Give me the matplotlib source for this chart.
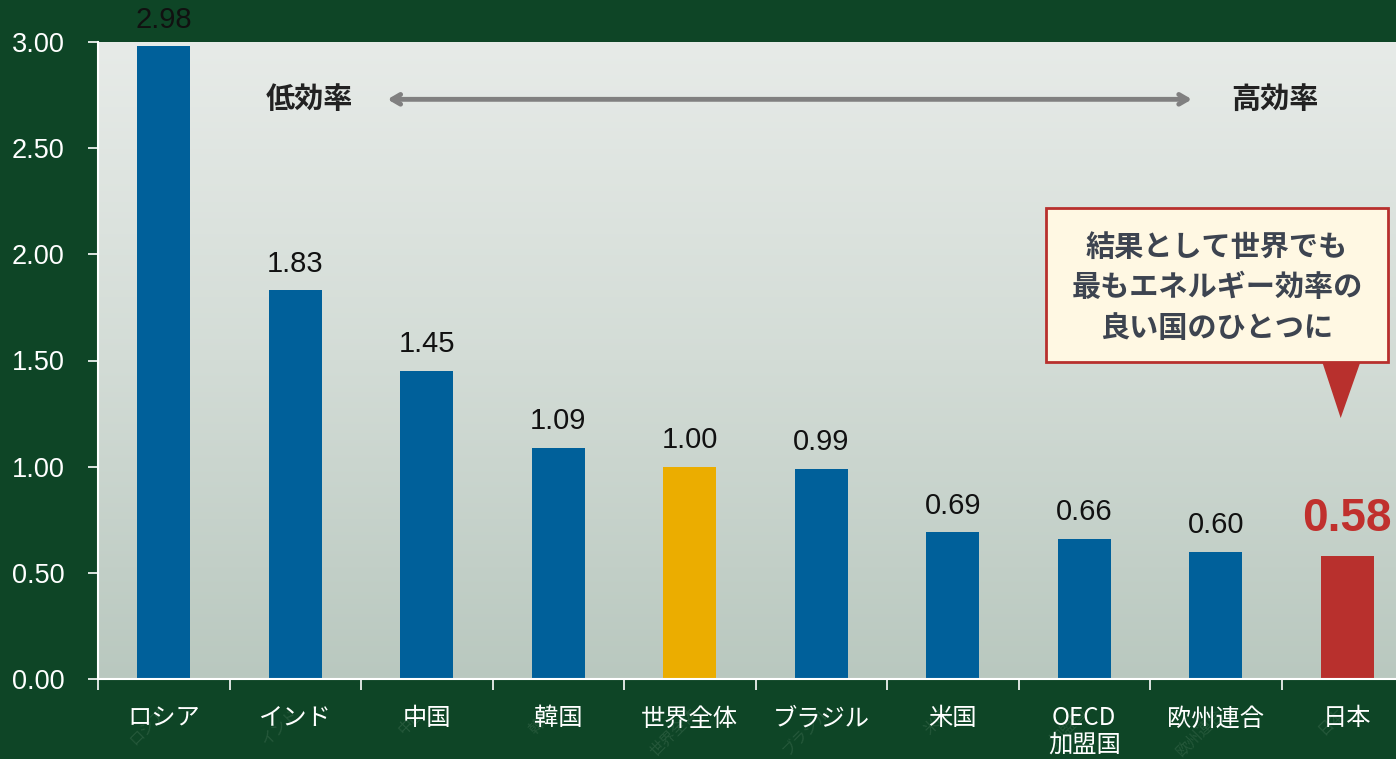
import numpy as np
import matplotlib
matplotlib.use("Agg")
import matplotlib.pyplot as plt
from matplotlib.colors import LinearSegmentedColormap
from matplotlib.patches import Polygon, FancyBboxPatch

# data
countries = ["ロシア", "インド", "中国", "韓国", "世界全体", "ブラジル", "米国", "OECD\n加盟国", "欧州連合", "日本"]
values = [2.98, 1.83, 1.45, 1.09, 1.00, 0.99, 0.69, 0.66, 0.60, 0.58]
bar_colors = ["#00609a"] * 4 + ["#ebad00"] + ["#00609a"] * 4 + ["#b8302d"]
yticks = [0.0, 0.5, 1.0, 1.5, 2.0, 2.5, 3.0]

BG = "#0e4526"
NUM_FONT = ["Liberation Sans", "Noto Sans CJK JP"]
JP_FONT = ["Noto Sans CJK JP", "DejaVu Sans"]

fig = plt.figure(figsize=(13.96, 7.59), dpi=100, facecolor=BG)
ax = fig.add_axes([98 / 1396, 80 / 759, 1315 / 1396, 637 / 759])
ax.set_facecolor("none")

# gradient plot background
grad = LinearSegmentedColormap.from_list("g", ["#e7ebe8", "#d3dcd6", "#b9c8bf"])
ax.imshow(np.linspace(0, 1, 256).reshape(-1, 1), cmap=grad, aspect="auto",
          extent=[0, 1, 0, 1], transform=ax.transAxes, zorder=0)

x = np.arange(len(countries))
ax.bar(x, values, width=0.40, color=bar_colors, zorder=2)

# value labels
for xi, v in zip(x, values):
    if xi == len(values) - 1:
        ax.text(xi, v + 0.07, f"{v:.2f}", ha="center", va="bottom", fontsize=33,
                fontweight="bold", color="#c0302d", family=NUM_FONT, zorder=3)
    else:
        ax.text(xi, v + 0.06, f"{v:.2f}", ha="center", va="bottom", fontsize=21,
                color="#111111", family=NUM_FONT, zorder=3, clip_on=False)

ax.set_xlim(-0.5, len(countries) - 0.5)
ax.set_ylim(0, 3.0)
ax.set_yticks(yticks)
ax.set_yticklabels([f"{t:.2f}" for t in yticks], family=NUM_FONT, fontsize=19.5, color="white")
ax.tick_params(axis="y", colors="white", length=7, width=1.2, pad=17)

ax.set_xticks(x)
ax.set_xticklabels(countries, family=JP_FONT, fontsize=17.5, color="white", linespacing=1.0, va="top")
ax.tick_params(axis="x", which="major", length=0, pad=19)
ax.set_xticks(np.arange(len(countries)) - 0.5, minor=True)
ax.tick_params(axis="x", which="minor", colors="white", length=8, width=1.2, direction="out")

for s in ["top", "right"]:
    ax.spines[s].set_visible(False)
for s in ["left", "bottom"]:
    ax.spines[s].set_color("white")
    ax.spines[s].set_linewidth(1.5)
ax.spines["bottom"].set_zorder(4)

# faint rotated watermark labels under the axis
for xi, lab in zip(x, countries):
    ax.text(xi - 0.12, -0.12, lab.split("\n")[-1], rotation=45, ha="center", va="top",
            fontsize=11, color="#4f7a5f", alpha=0.35, family=JP_FONT, clip_on=False, zorder=1)

# efficiency arrow
ax.annotate("", xy=(1.68, 2.73), xytext=(7.84, 2.73),
            arrowprops=dict(arrowstyle="<->,head_length=0.6,head_width=0.35",
                            color="#808080", lw=3.5), zorder=3)
ax.text(1.11, 2.73, "低効率", ha="center", va="center", fontsize=21, fontweight="bold",
        color="#222222", family=JP_FONT, zorder=3)
ax.text(8.45, 2.73, "高効率", ha="center", va="center", fontsize=21, fontweight="bold",
        color="#222222", family=JP_FONT, zorder=3)

# callout box
box = FancyBboxPatch((6.71, 1.493), 2.60, 0.725, boxstyle="square,pad=0",
                     facecolor="#fff8e3", edgecolor="#b8302d", linewidth=2, zorder=5, clip_on=False)
ax.add_patch(box)
tri = Polygon([[8.81, 1.493], [9.10, 1.493], [8.95, 1.229]], closed=True,
              facecolor="#b8302d", edgecolor="none", zorder=5)
ax.add_patch(tri)
ax.text(8.01, 1.845, "結果として世界でも\n最もエネルギー効率の\n良い国のひとつに", ha="center", va="center",
        fontsize=21, fontweight="bold", color="#3d4450", family=JP_FONT, linespacing=1.45, zorder=6)

fig.savefig("out.png", dpi=100, facecolor=BG)
